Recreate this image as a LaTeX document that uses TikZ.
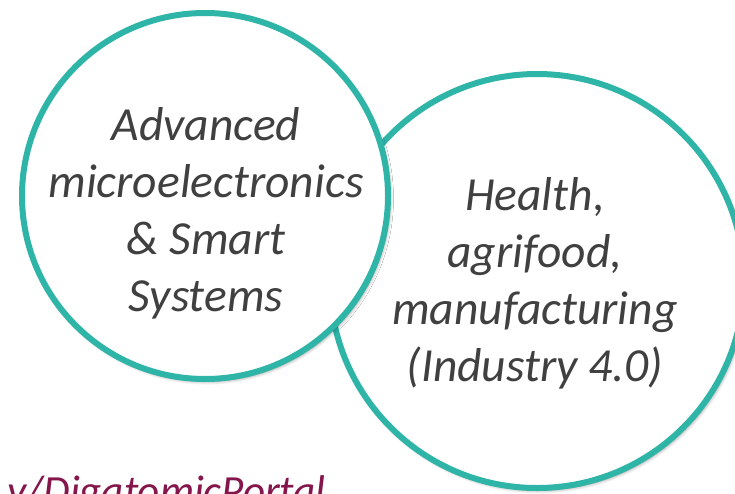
\documentclass[tikz,border=0pt]{standalone}
\usepackage{fontspec}
\setmainfont{Carlito}
\usetikzlibrary{shadows.blur}
\definecolor{tealc}{RGB}{47,181,168}
\definecolor{txtgray}{RGB}{64,64,64}
\definecolor{linkmaroon}{RGB}{132,22,76}
\begin{document}
\begin{tikzpicture}[x=1pt,y=-1pt,
  bubble/.style={circle, draw=tealc, line width=6pt, fill=white, inner sep=0pt,
    blur shadow={shadow xshift=2pt, shadow yshift=-2.5pt, shadow blur steps=8, shadow opacity=40, shadow blur radius=3.5pt}},
  bubbletext/.style={font=\fontsize{47.5}{57}\selectfont\itshape, text=txtgray, align=center, inner sep=0pt},
  linktext/.style={font=\fontsize{43}{50}\selectfont\itshape, text=linkmaroon, inner sep=0pt}]
\useasboundingbox (0,0) rectangle (735,493);
\clip (0,0) rectangle (735,493);
\node[bubble, minimum size=414pt] (right) at (537,281) {};
\node[bubble, minimum size=366pt] (left) at (205,196) {};
\node[bubbletext] (lefttext) at (206,213) {Advanced\\microelectronics\\\&{} Smart\\Systems};
\node[bubbletext] (righttext) at (535,283) {Health,\\agrifood,\\manufacturing\\(Industry 4.0)};
\node[linktext, anchor=base east] (link) at (326,505) {y/DigatomicPortal};
\end{tikzpicture}
\end{document}
